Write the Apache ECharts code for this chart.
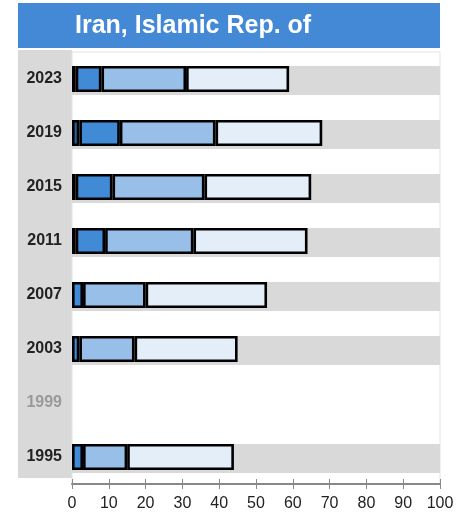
<!DOCTYPE html>
<html>
<head>
<meta charset="utf-8">
<script src="https://cdn.jsdelivr.net/npm/echarts@6/dist/echarts.min.js"></script>
<style>
  html, body { margin: 0; padding: 0; background: #fff; }
  #main { width: 472px; height: 519px; }
</style>
</head>
<body>
<div id="main"></div>
<script>
// years, bottom to top
var years = ['1995', '1999', '2003', '2007', '2011', '2015', '2019', '2023'];
// segment widths (null = no data)
var darkVals = [null, null, null, null, 1, 1, 2, 1];
var midVals = [3, null, 2, 3, 8, 10, 11, 7];
var lightVals = [12, null, 15, 17, 24, 25, 26, 23];
var paleVals = [29, null, 28, 33, 31, 29, 29, 28];
var bandVals = [100, null, 100, 100, 100, 100, 100, 100];
var xTicks = [0, 100, 10];

var chart = echarts.init(document.getElementById('main'));

function seg(name, data, color) {
    return {
        name: name,
        type: 'bar',
        stack: 'total',
        barWidth: 26,
        barGap: '-100%',
        data: data,
        z: 3,
        itemStyle: { color: color, borderColor: '#000', borderWidth: 2.6 }
    };
}

var option = {
    animation: false,
    textStyle: { fontFamily: 'Liberation Sans, Arial, sans-serif' },
    title: {
        text: 'Iran, Islamic Rep. of',
        left: 70,
        top: 9,
        textStyle: { color: '#fff', fontSize: 25, fontWeight: 'bold', fontFamily: 'Liberation Sans, Arial, sans-serif' }
    },
    graphic: [
        { type: 'rect', z: -10, shape: { x: 18, y: 3, width: 422, height: 45 }, style: { fill: '#4489d5' } },
        { type: 'rect', z: -10, shape: { x: 18, y: 50, width: 54, height: 428 }, style: { fill: '#d9d9d9' } }
    ],
    grid: {
        left: 72, right: 32, top: 52, bottom: 35,
        show: true, backgroundColor: '#fff', borderColor: '#e2e2e2', borderWidth: 1
    },
    xAxis: [{
        type: 'value', min: xTicks[0], max: xTicks[1], interval: xTicks[2],
        axisLine: { show: true, lineStyle: { color: '#888', width: 2 } },
        axisTick: { show: true, length: 5, lineStyle: { color: '#888', width: 1 } },
        axisLabel: { fontSize: 16, color: '#222', margin: 12 },
        splitLine: { show: false }
    }, {
        type: 'value', position: 'bottom', min: xTicks[0], max: xTicks[1], interval: xTicks[2],
        axisLine: { show: false },
        axisTick: { show: true, inside: true, length: 5, lineStyle: { color: '#888', width: 1 } },
        axisLabel: { show: false },
        splitLine: { show: false }
    }],
    yAxis: {
        type: 'category', data: years,
        axisLine: { show: false }, axisTick: { show: false },
        axisLabel: {
            fontSize: 16, fontWeight: 'bold', margin: 10,
            color: function (v) { return v === '1999' ? '#999' : '#222'; }
        }
    },
    series: [
        {
            type: 'bar', barWidth: 29, barGap: '-100%', data: bandVals, z: 1, silent: true,
            itemStyle: { color: '#d9d9d9' }
        },
        seg('dark', darkVals, '#2c5e98'),
        seg('mid', midVals, '#418ad6'),
        seg('light', lightVals, '#98bfe8'),
        seg('pale', paleVals, '#e4eef9')
    ]
};
chart.setOption(option);
</script>
</body>
</html>
